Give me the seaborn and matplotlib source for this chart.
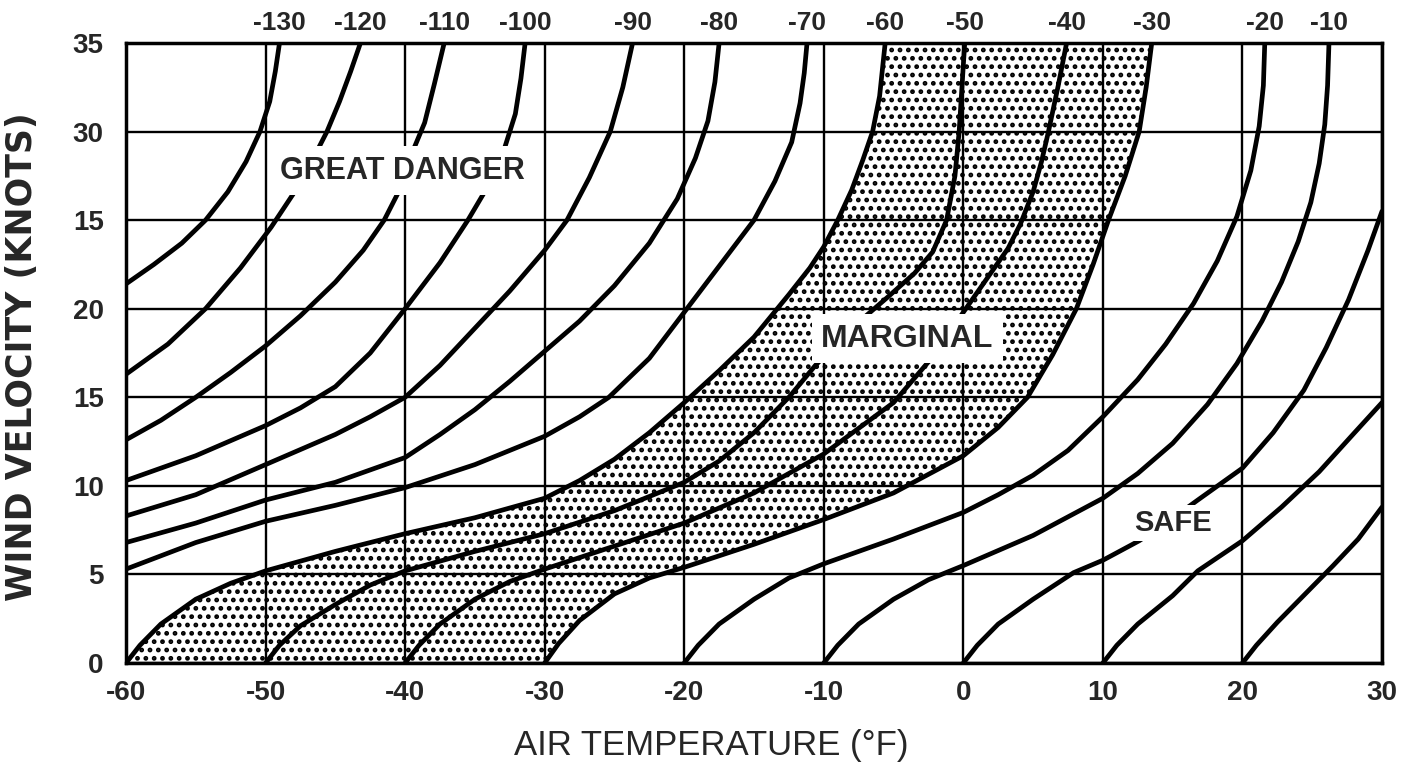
import numpy as np
import pandas as pd
import matplotlib
matplotlib.use("Agg")
import matplotlib.pyplot as plt
import seaborn as sns

# axis ticks (the original chart prints "15" at the 25 knot line)
x_ticks = [-60, -50, -40, -30, -20, -10, 0, 10, 20, 30]
y_ticks = [0, 5, 10, 15, 20, 25, 30, 35]
y_tick_labels = ["0", "5", "10", "15", "20", "15", "30", "35"]

# equivalent chill temperature lines: air temperature (F) vs wind (knots)
t_m130 = [-60, -58, -56, -54.3, -52.7, -51.4, -50.4, -49.7, -49.3, -49.0]
v_m130 = [21.4, 22.5, 23.7, 25.0, 26.6, 28.3, 30.0, 31.7, 33.4, 35.0]

t_m120 = [-60, -57, -54.3, -51.8, -49.6, -48.0, -46.7, -45.6, -44.7, -43.9, -43.2]
v_m120 = [16.3, 18.0, 20.0, 22.3, 24.6, 26.5, 28.3, 30.0, 31.7, 33.4, 35.0]

t_m110 = [-60, -57.5, -55, -52.5, -50, -47.5, -45, -43, -41.5, -40.4, -39.5, -38.6, -37.9, -37.2]
v_m110 = [12.6, 13.7, 15.0, 16.4, 17.9, 19.6, 21.5, 23.3, 25.0, 26.7, 28.8, 30.5, 32.7, 35.0]

t_m100 = [-60, -55, -50, -47.5, -45, -42.5, -40, -37.5, -35.5, -34.0, -32.9, -32.1, -31.7, -31.4]
v_m100 = [10.3, 11.7, 13.4, 14.4, 15.6, 17.5, 20.0, 22.6, 25.0, 27.0, 29.0, 31.0, 33.0, 35.0]

t_m90 = [-60, -55, -50, -45, -42.5, -40, -37.5, -35, -32.5, -30, -28.4, -26.8, -25.3, -24.4, -23.7]
v_m90 = [8.3, 9.5, 11.2, 12.9, 13.9, 15.0, 16.8, 18.9, 21.0, 23.3, 25.0, 27.4, 30.0, 32.5, 35.0]

t_m80 = [-60, -55, -50, -45, -40, -37.5, -35, -32.5, -30, -27.5, -25, -22.5, -20.5, -19.2, -18.3, -17.8, -17.5]
v_m80 = [6.8, 7.9, 9.2, 10.2, 11.6, 12.9, 14.3, 15.9, 17.6, 19.3, 21.3, 23.7, 26.2, 28.5, 30.6, 32.8, 35.0]

t_m70 = [-60, -55, -50, -45, -40, -35, -30, -27.5, -25.4, -22.5, -20, -17.5, -15, -13.5, -12.3, -11.7, -11.4, -11.2]
v_m70 = [5.3, 6.8, 8.0, 8.9, 9.9, 11.2, 12.8, 13.9, 15.0, 17.2, 19.8, 22.4, 25.0, 27.2, 29.4, 31.6, 33.3, 35.0]

t_m60 = [-60, -59, -57.5, -55, -52.5, -50, -45, -40, -35, -30, -27.5, -25, -22.5, -20,
         -17.5, -15, -12.5, -11, -10, -9, -8, -7.2, -6.5, -6.0, -5.6]
v_m60 = [0, 1.0, 2.2, 3.6, 4.5, 5.2, 6.3, 7.3, 8.2, 9.3, 10.3, 11.5, 13.0, 14.7,
         16.5, 18.4, 20.8, 22.3, 23.5, 25.0, 26.7, 28.4, 30.0, 32.0, 35.0]

t_m50 = [-50, -49, -47.5, -45, -42.5, -40, -35, -30, -25, -20, -17.5, -15, -12.5, -10.6,
         -8, -5.5, -3.5, -2.2, -1.2, -0.6, -0.3, -0.1, 0.1]
v_m50 = [0, 1.0, 2.1, 3.3, 4.4, 5.2, 6.3, 7.3, 8.6, 10.2, 11.4, 13.0, 15.0, 16.8,
         18.9, 20.6, 22.0, 23.2, 25.0, 27.5, 30.0, 32.5, 35.0]

t_m40 = [-40, -39, -37.5, -35, -32.5, -30, -25, -20, -15, -10, -5, -2.5, 0, 1.6, 3.2,
         4.1, 5.0, 5.6, 6.1, 6.8, 7.4]
v_m40 = [0, 1.0, 2.2, 3.6, 4.6, 5.3, 6.6, 7.9, 9.6, 11.8, 14.7, 17.0, 19.8, 21.6, 23.4,
         24.8, 26.6, 28.3, 30.0, 32.6, 35.0]

t_m30 = [-30, -29, -27.5, -25, -22.5, -20, -15, -10, -5, 0, 2.5, 4.6, 6.4, 8.1, 9.3,
         10.4, 11.6, 12.6, 13.1, 13.5]
v_m30 = [0, 1.1, 2.4, 3.9, 4.8, 5.4, 6.7, 8.1, 9.6, 11.7, 13.3, 15.0, 17.4, 20.0, 22.5,
         25.0, 27.5, 30.0, 32.5, 35.0]

t_m20 = [-20, -19, -17.5, -15, -12.5, -10, -5, 0, 2.5, 5, 7.5, 10, 12.5, 14.5, 16.5,
         18.2, 19.6, 20.6, 21.2, 21.5, 21.6]
v_m20 = [0, 1.0, 2.2, 3.6, 4.8, 5.6, 7.0, 8.5, 9.5, 10.6, 12.0, 13.9, 16.0, 18.0, 20.3,
         22.7, 25.2, 27.8, 30.3, 32.6, 35.0]

t_m10 = [-10, -9, -7.5, -5, -2.5, 0, 5, 10, 12.5, 15, 17.5, 19.6, 21.4, 22.8, 24.0,
         24.9, 25.5, 25.9, 26.1, 26.2]
v_m10 = [0, 1.0, 2.2, 3.6, 4.7, 5.5, 7.2, 9.3, 10.7, 12.4, 14.6, 16.9, 19.3, 21.5, 23.8,
         26.0, 28.2, 30.4, 32.6, 35.0]

t_0 = [0, 1, 2.5, 5, 7.9, 10, 12.6, 14.7, 16.8, 20, 22.2, 24.4, 26, 27.6, 29, 30]
v_0 = [0, 1.0, 2.2, 3.6, 5.1, 5.8, 6.9, 8.0, 9.2, 11.0, 13.0, 15.4, 17.8, 20.5, 23.3, 25.5]

t_10 = [10, 11, 12.5, 15, 16.8, 20, 22.8, 25.5, 27.8, 30]
v_10 = [0, 1.0, 2.2, 3.8, 5.2, 6.9, 8.8, 10.8, 12.8, 14.7]

t_20 = [20, 21, 22.5, 24.5, 26.5, 28.3, 30]
v_20 = [0, 1.0, 2.3, 3.9, 5.5, 7.0, 8.8]

chill_lines = [
    (-130, t_m130, v_m130), (-120, t_m120, v_m120), (-110, t_m110, v_m110),
    (-100, t_m100, v_m100), (-90, t_m90, v_m90), (-80, t_m80, v_m80),
    (-70, t_m70, v_m70), (-60, t_m60, v_m60), (-50, t_m50, v_m50),
    (-40, t_m40, v_m40), (-30, t_m30, v_m30), (-20, t_m20, v_m20),
    (-10, t_m10, v_m10), (0, t_0, v_0), (10, t_10, v_10), (20, t_20, v_20),
]

rows = []
for chill, temps, winds in chill_lines:
    for t, v in zip(temps, winds):
        rows.append((chill, t, v))
df = pd.DataFrame(rows, columns=["chill", "temp", "wind"])

sns.set_style("white")
plt.rcParams["font.family"] = ["Liberation Sans", "DejaVu Sans"]
plt.rcParams["hatch.linewidth"] = 2.2

fig = plt.figure(figsize=(14.19, 7.70), dpi=100)
ax = fig.add_axes([126 / 1419, 107 / 770, 1256 / 1419, 620 / 770])

# stippled "marginal" band between the -60 and -30 lines
ax.fill(np.r_[t_m60, t_m30[::-1]], np.r_[v_m60, v_m30[::-1]],
        facecolor="white", edgecolor="black", hatch="..", linewidth=0, zorder=1)

sns.lineplot(data=df, x="temp", y="wind", units="chill", estimator=None,
             sort=False, color="black", linewidth=3.4, legend=False, ax=ax, zorder=3)

ax.set_xlim(-60, 30)
ax.set_ylim(0, 35)
ax.set_xticks(x_ticks)
ax.set_xticklabels([str(x) for x in x_ticks])
ax.set_yticks(y_ticks)
ax.set_yticklabels(y_tick_labels)
ax.tick_params(length=0, labelsize=20)
ax.tick_params(axis="x", pad=12)
ax.tick_params(axis="y", pad=16)
for lab in ax.get_xticklabels() + ax.get_yticklabels():
    lab.set_fontweight("bold")
ax.set_xlabel("")
ax.set_ylabel("")
ax.grid(True, color="black", linewidth=1.7)
ax.set_axisbelow(False)
for sp in ax.spines.values():
    sp.set_color("black")
    sp.set_linewidth(2.5)

# chill temperature labels along the top edge
for chill, temps, winds in chill_lines:
    if winds[-1] >= 35:
        ax.text(temps[-1], 35.45, str(chill), ha="center", va="bottom",
                fontsize=19, fontweight="bold", clip_on=False)

box = dict(facecolor="white", edgecolor="none", boxstyle="square,pad=0.3")
ax.text(-40.2, 27.8, "GREAT DANGER", ha="center", va="center", fontsize=22,
        fontweight="bold", bbox=box, zorder=6)
ax.text(-4.0, 18.3, "MARGINAL", ha="center", va="center", fontsize=23,
        fontweight="bold", bbox=box, zorder=6)
ax.text(15.0, 7.9, "SAFE", ha="center", va="center", fontsize=21,
        fontweight="bold", bbox=dict(facecolor="white", edgecolor="none",
                                     boxstyle="square,pad=0.15"), zorder=6)

fig.text(22 / 1419, 1 - 357 / 770, "WIND VELOCITY (KNOTS)", rotation=90,
         ha="center", va="center", fontsize=25, fontweight="bold",
         family="DejaVu Sans")
fig.text(711 / 1419, 1 - 745 / 770, "AIR TEMPERATURE (°F)", ha="center",
         va="center", fontsize=25)

fig.savefig("out.png", dpi=100)
